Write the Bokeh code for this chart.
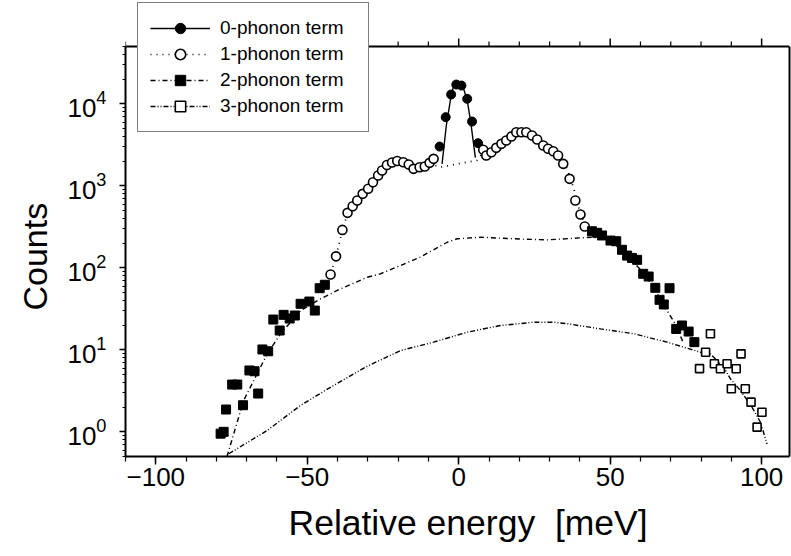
import math
from bokeh.plotting import figure
from bokeh.models import (Range1d, SingleIntervalTicker, LinearAxis, Legend,
                          LegendItem, Span, FixedTicker, Title)
from bokeh.embed import file_html
from bokeh.resources import INLINE

# ---------------- data ----------------
# 0-phonon term (filled circles) and its fit (solid line)
zero_x = [-6.3, -4.3, -2.5, -0.8, 0.9, 2.8, 4.4, 6.4]
zero_y = [3010, 6870, 12980, 17180, 16710, 11510, 6080, 3310]
zero_fit_x = [-5.5, -4.1, -2.5, -1.6, -0.8, 0.6, 1.6, 2.8, 3.9, 5.5]
zero_fit_y = [1850, 5400, 12600, 17100, 18700, 18200, 15400, 11000, 6250, 2210]

# 1-phonon term (open circles) and its fit (dotted line)
one_x = [-42.3, -40.5, -38.4, -36.7, -35.0, -33.5, -31.7, -29.9, -28.3, -26.6,
         -25.3, -23.7, -22.0, -20.3, -18.3, -16.5, -14.9, -12.9, -11.2, -9.6,
         -8.3, 8.1, 9.1, 10.8, 12.4, 14.1, 15.7, 17.4, 19.0, 20.7,
         22.3, 24.2, 25.9, 27.9, 29.5, 31.2, 32.8, 34.5, 36.6, 38.5,
         40.2, 41.6]
one_y = [83, 138, 290, 468, 564, 662, 798, 919, 1107, 1336,
         1538, 1795, 1923, 2006, 1941, 1820, 1611, 1687, 1719, 1906,
         2133, 2748, 2344, 2571, 2906, 3251, 3565, 3990, 4505, 4505,
         4505, 4103, 3670, 3099, 2826, 2642, 2342, 1854, 1216, 662,
         447, 319]
one_fit_x = [-44.5, -42.3, -40.5, -38.4, -36.7, -35, -33, -31, -29, -27,
             -25, -23, -21, -19, -17, -15, -13, -11, -9, -7,
             -6, 0, 6, 8, 10, 12, 14, 16, 18, 20,
             22, 24, 26, 28, 30, 32, 34, 35.5, 37, 38.5,
             40, 42, 44]
one_fit_y = [55, 83, 140, 285, 460, 565, 700, 840, 1000, 1250,
             1550, 1820, 1960, 1970, 1860, 1720, 1680, 1720, 1800, 1750,
             1690, 1860, 2040, 2550, 2500, 2820, 3200, 3650, 4150, 4450,
             4450, 4150, 3650, 3100, 2780, 2500, 2050, 1700, 1200, 800,
             480, 320, 255]

# 2-phonon term (filled squares) and its fit (dash-dot line)
two_x = [-78.6, -77.6, -76.8, -74.8, -73.1, -71.2, -69.1, -67.4, -66.2, -64.8,
         -62.9, -61.2, -59.1, -57.8, -55.8, -54.1, -52.2, -49.3, -47.5, -45.9,
         -44.2, 44.0, 45.7, 47.3, 50.1, 52.0, 53.9, 55.6, 57.2, 58.9,
         60.9, 62.7, 64.9, 69.6, 66.3, 67.7, 71.8, 73.7, 75.9, 77.8]
two_y = [0.95, 1.0, 1.87, 3.77, 3.77, 2.11, 5.6, 5.48, 2.93, 10.1,
         9.6, 23.4, 17.2, 26.7, 24.1, 26.2, 36.4, 38.8, 30.1, 56.4,
         62.1, 279, 267, 248, 215, 211, 166, 141, 132, 125,
         84.5, 78.3, 57, 56.4, 40.7, 35.7, 18.0, 19.8, 16.7, 12.4]
two_fit_x = [-76.5, -71.0, -63.2, -58.8, -52.2, -45.6, -39.0, -30.2, -25.9, -19.2,
             -12.7, -3.8, -0.5, 7.2, 18.1, 29.2, 40.2, 44.5, 50.0, 55.6,
             60.9, 64.9, 68.2, 71.8, 74.0]
two_fit_y = [0.5, 2.41, 8.93, 15.7, 30.1, 41.9, 55.4, 76.7, 84.5, 106.7,
             135, 205, 226, 236, 226, 219, 232, 236, 215, 141,
             87.7, 52.9, 32.8, 19.7, 12.5]

# 3-phonon term (open squares) and its fit (dash-dot-dot line)
three_x = [83.1, 81.5, 79.5, 84.4, 86.4, 88.6, 91.6, 93.2, 90.0, 94.6,
           96.5, 100.1, 98.5]
three_y = [15.7, 9.35, 5.9, 6.75, 5.87, 6.75, 5.87, 8.93, 3.35, 3.35,
           2.3, 1.73, 1.14]
three_fit_x = [-75.9, -63.2, -52.2, -41.2, -30.2, -19.2, -8.3, 2.8, 13.8, 24.8,
               31.4, 35.8, 46.8, 57.8, 68.8, 79.8, 83.1, 87.5, 89.7, 93.0,
               96.8, 99.6, 101.8]
three_fit_y = [0.54, 1.04, 2.1, 3.7, 6.3, 9.8, 12.4, 16.4, 19.8, 21.7,
               21.7, 20.8, 18.0, 15.7, 12.4, 9.35, 8.9, 6.1, 4.43, 3.19,
               2.0, 1.31, 0.71]

labels = ["0-phonon term", "1-phonon term", "2-phonon term", "3-phonon term"]
x_title = "Relative energy \u00a0[meV]"
y_title = "Counts"

FONT = "Liberation Sans"

# axis limits of the boxed plot area
X_MIN, X_MAX = -110, 109.2
Y_MIN, Y_MAX = 0.5, 50000
PX_PER_DEC = 82.0
TOP_GAP = 46  # pixels above the box used by the legend
y_top = 10 ** (math.log10(Y_MAX) + TOP_GAP / PX_PER_DEC)

p = figure(width=791, height=556, y_axis_type="log",
           x_range=Range1d(X_MIN, X_MAX), y_range=Range1d(Y_MIN, y_top),
           output_backend="svg", toolbar_location=None,
           min_border_left=125, min_border_right=2,
           min_border_top=0, min_border_bottom=100)
p.xgrid.visible = False
p.ygrid.visible = False
p.outline_line_color = None
p.background_fill_color = "white"
p.border_fill_color = "white"

# axes
p.xaxis.ticker = SingleIntervalTicker(interval=50, num_minor_ticks=5)
for ax in (p.xaxis[0], p.yaxis[0]):
    ax.axis_line_width = 2
    ax.major_tick_line_width = 1.5
    ax.minor_tick_line_width = 1.2
    ax.major_tick_in = 0
    ax.minor_tick_in = 0
    ax.major_label_text_font = FONT
    ax.major_label_text_font_size = "26px"
    ax.major_label_text_color = "black"

p.xaxis.major_tick_out = 8
p.xaxis.minor_tick_out = 5
p.xaxis.major_label_standoff = 3

p.yaxis.bounds = (Y_MIN, Y_MAX)
p.yaxis.major_tick_out = 6
p.yaxis.minor_tick_out = 3
p.yaxis.major_label_standoff = 13

# axis titles (as side titles so they can be placed like the reference)
p.add_layout(Title(text=y_title, align="left", offset=146, standoff=22,
                   text_font=FONT, text_font_size="34px",
                   text_font_style="normal", text_color="black"), "left")
p.add_layout(Title(text=x_title, align="left", offset=163, standoff=24,
                   text_font=FONT, text_font_size="35.5px",
                   text_font_style="normal", text_color="black"), "below")

# right edge of the box
right = LinearAxis(ticker=FixedTicker(ticks=[]), bounds=(Y_MIN, Y_MAX),
                   axis_line_width=2, major_tick_out=0, minor_tick_out=0)
p.add_layout(right, "right")

# top edge of the box with outward ticks
p.add_layout(Span(location=Y_MAX, dimension="width", line_color="black",
                  line_width=2))
top_major = [-100, -50, 0, 50, 100]
top_minor = [v for v in range(-110, 110, 10) if v not in top_major]
p.segment(x0=top_major, y0=[Y_MAX] * len(top_major), x1=top_major,
          y1=[Y_MAX * 10 ** (8 / PX_PER_DEC)] * len(top_major),
          line_color="black", line_width=1.5)
p.segment(x0=top_minor, y0=[Y_MAX] * len(top_minor), x1=top_minor,
          y1=[Y_MAX * 10 ** (5 / PX_PER_DEC)] * len(top_minor),
          line_color="black", line_width=1.2)

LW = 1.4
# fits
l0 = p.line(zero_fit_x, zero_fit_y, line_color="black", line_width=LW)
l1 = p.line(one_fit_x, one_fit_y, line_color="black", line_width=1.7,
            line_dash="1 5")
l2 = p.line(two_fit_x, two_fit_y, line_color="black", line_width=LW,
            line_dash="5 3 1 3")
l3 = p.line(three_fit_x, three_fit_y, line_color="black", line_width=LW,
            line_dash="5 2 1 2 1 2")

# data markers
s0 = p.scatter(zero_x, zero_y, marker="circle", size=9,
               fill_color="black", line_color="black")
s1 = p.scatter(one_x, one_y, marker="circle", size=9,
               fill_color="white", line_color="black", line_width=1.6)
s2 = p.scatter(two_x, two_y, marker="square", size=9,
               fill_color="black", line_color="black")
s3 = p.scatter(three_x, three_y, marker="square", size=8,
               fill_color="white", line_color="black", line_width=1.6)

legend = Legend(items=[LegendItem(label=labels[0], renderers=[l0, s0]),
                       LegendItem(label=labels[1], renderers=[l1, s1]),
                       LegendItem(label=labels[2], renderers=[l2, s2]),
                       LegendItem(label=labels[3], renderers=[l3, s3])],
                location=(12, 324), orientation="vertical",
                label_text_font=FONT, label_text_font_size="19px",
                label_text_color="black",
                glyph_width=60, glyph_height=26, label_height=26,
                label_width=136, label_standoff=10, padding=12, spacing=0,
                margin=0,
                border_line_color="black", border_line_width=1.5,
                background_fill_color="white", background_fill_alpha=1.0)
p.add_layout(legend, "center")

open("out.html", "w").write(file_html(p, INLINE))
